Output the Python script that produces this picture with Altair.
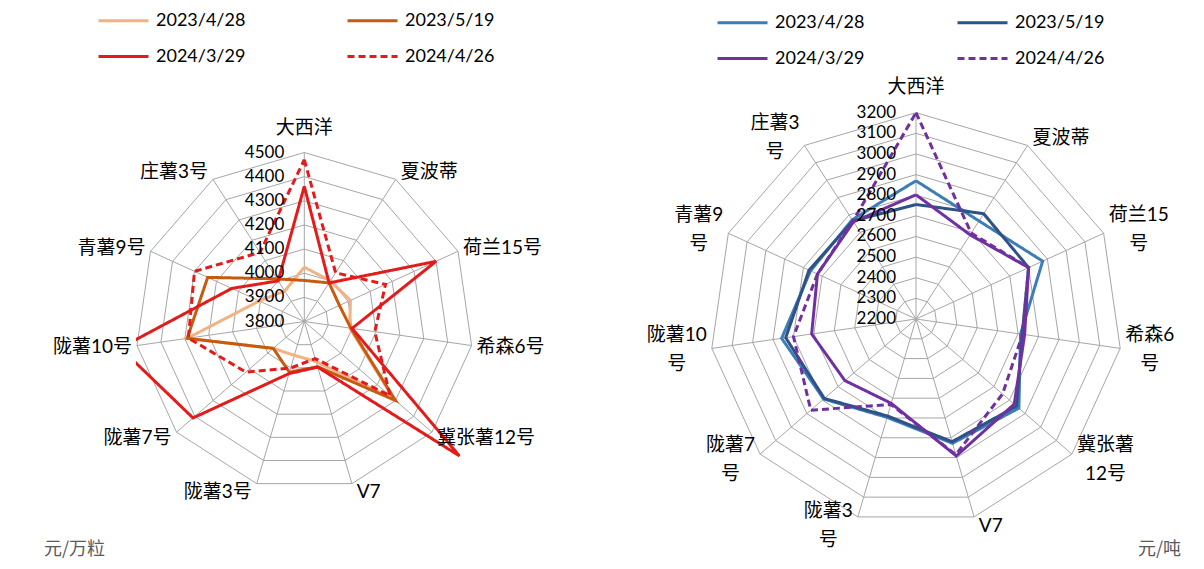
import math
import altair as alt
import pandas as pd

# ---------------- data ----------------
categories = ["大西洋", "夏波蒂", "荷兰15号", "希森6号", "冀张薯12号", "V7",
              "陇薯3号", "陇薯7号", "陇薯10号", "青薯9号", "庄薯3号"]
categories_right = ["大西洋", "夏波蒂", "荷兰15\n号", "希森6\n号", "冀张薯\n12号", "V7",
                    "陇薯3\n号", "陇薯7\n号", "陇薯10\n号", "青薯9\n号", "庄薯3\n号"]
series_names = ["2023/4/28", "2023/5/19", "2024/3/29", "2024/4/26"]

# 元/万粒 (left)
seed_2023_04_28 = [4025, 4000, 4010, 3990, 4290, 3973, 3946, 3970, 4290, 4005, 3950]
seed_2023_05_19 = [3970, 3990, 3960, 3995, 4300, 3995, 4019, 3970, 4290, 4240, 4010]
seed_2024_03_29 = [4360, 3990, 4400, 4000, 4650, 3997, 4025, 4410, 4570, 4130, 4000]
seed_2024_04_26 = [4470, 4040, 4170, 4095, 4270, 3960, 4001, 4120, 4285, 4300, 4140]

# 元/吨 (right)
ton_2023_04_28 = [2870, 2765, 2875, 2712, 2860, 2828, 2697, 2792, 2858, 2762, 2772]
ton_2023_05_19 = [2755, 2807, 2800, 2720, 2845, 2820, 2690, 2788, 2838, 2770, 2765]
ton_2024_03_29 = [2802, 2685, 2800, 2732, 2830, 2892, 2626, 2656, 2711, 2725, 2760]
ton_2024_04_26 = [3200, 2695, 2800, 2722, 2755, 2885, 2632, 2875, 2800, 2725, 2765]

ticks_left = [3800, 3900, 4000, 4100, 4200, 4300, 4400, 4500]
ticks_right = [2200, 2300, 2400, 2500, 2600, 2700, 2800, 2900, 3000, 3100, 3200]
unit_left = "元/万粒"
unit_right = "元/吨"

# ---------------- layout ----------------
FONT = "Lato, Noto Sans CJK SC, sans-serif"
PAGE_W, PAGE_H = 1204, 569
PAD_LEFT = 128
X0 = 8 + PAD_LEFT
W = PAGE_W - 16 - PAD_LEFT
H = PAGE_H - 16
xs = alt.Scale(domain=[X0, X0 + W], nice=False, zero=False)
ys = alt.Scale(domain=[8, 8 + H], nice=False, zero=False, reverse=True)
N = len(categories)
GRID = "#A6A6A6"
DASHES = [[1, 0], [1, 0], [1, 0], [7, 4]]
# legend grid fills column by column -> order entries so rows read like the reference
LEG_ORDER = [0, 2, 1, 3]


def text_w(s, fs):
    w = 0
    for c in s:
        if ord(c) > 0x2E80:
            w += fs
        elif c.isdigit():
            w += 0.58 * fs
        else:
            w += 0.65 * fs
    return w


def legend_def(lx, ly, col_pad, row_pad):
    return alt.Legend(orient="none", legendX=lx, legendY=ly, columns=2, title=None,
                      symbolType="stroke", symbolSize=2500, symbolStrokeWidth=3,
                      labelFont=FONT, labelFontSize=18, labelColor="#000000",
                      labelOffset=6, columnPadding=col_pad, rowPadding=row_pad,
                      padding=0)


def radar(values, ticks, labels, cx, cy, R, colors, field, lx, ly, col_pad, row_pad,
          lab_fs, line_h, top_gap):
    vmin, vmax = ticks[0], ticks[-1]
    rows = []
    for s, vals in zip(series_names, values):
        for k in range(N + 1):
            i = k % N
            rows.append({field: s, "idx": i, "ord": k, "value": vals[i]})
    df = pd.DataFrame(rows)

    def polar(ch):
        return ch.transform_calculate(
            theta=f"2*PI*datum.idx/{N}",
            frac=f"(datum.value-{vmin})/({vmax}-{vmin})",
        ).transform_calculate(
            px=f"{cx}+{R}*datum.frac*sin(datum.theta)",
            py=f"{cy}-{R}*datum.frac*cos(datum.theta)",
        )

    # rings
    ring_rows = []
    for t in ticks[1:]:
        for k in range(N + 1):
            ring_rows.append({"tick": t, "idx": k % N, "ord": k, "value": t})
    rings = polar(alt.Chart(pd.DataFrame(ring_rows))).mark_line(
        stroke=GRID, strokeWidth=1).encode(
        x=alt.X("px:Q", scale=xs, axis=None),
        y=alt.Y("py:Q", scale=ys, axis=None),
        order="ord:Q", detail="tick:N")

    spoke_df = pd.DataFrame({"idx": list(range(N)), "value": [vmax] * N})
    spokes = polar(alt.Chart(spoke_df)).transform_calculate(
        cx0=f"{cx}", cy0=f"{cy}").mark_rule(stroke=GRID, strokeWidth=1).encode(
        x=alt.X("cx0:Q", scale=xs, axis=None), y=alt.Y("cy0:Q", scale=ys, axis=None),
        x2="px:Q", y2="py:Q")

    leg = legend_def(lx, ly, col_pad, row_pad)
    dom = [series_names[j] for j in LEG_ORDER]
    col_rng = [colors[j] for j in LEG_ORDER]
    dash_rng = [DASHES[j] for j in LEG_ORDER]
    lines = polar(alt.Chart(df)).mark_line(strokeWidth=3, clip=True).encode(
        x=alt.X("px:Q", scale=xs, axis=None),
        y=alt.Y("py:Q", scale=ys, axis=None),
        order="ord:Q",
        color=alt.Color(f"{field}:N", scale=alt.Scale(domain=dom, range=col_rng),
                        legend=leg),
        strokeDash=alt.StrokeDash(f"{field}:N",
                                  scale=alt.Scale(domain=dom, range=dash_rng),
                                  legend=leg),
    )

    tick_df = pd.DataFrame({"value": ticks, "label": [str(t) for t in ticks]})
    tick_text = alt.Chart(tick_df).transform_calculate(
        tx=f"{cx}-20",
        ty=f"{cy}-{R}*(datum.value-{vmin})/({vmax}-{vmin})",
    ).mark_text(align="right", baseline="middle", font=FONT, fontSize=17,
                color="#000000").encode(
        x=alt.X("tx:Q", scale=xs, axis=None), y=alt.Y("ty:Q", scale=ys, axis=None),
        text="label:N")

    lab_rows = []
    for i, lab in enumerate(labels):
        th = 2 * math.pi * i / N
        s, c = math.sin(th), math.cos(th)
        px, py = cx + R * s, cy - R * c
        parts = lab.split("\n")
        w = max(text_w(p, lab_fs) for p in parts)
        bh = lab_fs + (len(parts) - 1) * line_h
        if abs(s) < 0.1:
            x, y = px, py - top_gap - bh / 2
        else:
            x = px + (1 if s > 0 else -1) * (5 + w / 2)
            y = py - c * 9
        # first line sits at the anchor: lift multi-line blocks so they are centred
        y -= (len(parts) - 1) * line_h / 2
        lab_rows.append({"label": lab, "lx": x, "ly": y})
    cat_text = alt.Chart(pd.DataFrame(lab_rows)).mark_text(
        align="center", baseline="middle", font=FONT, fontSize=lab_fs,
        color="#000000", lineBreak="\n", lineHeight=line_h).encode(
        x=alt.X("lx:Q", scale=xs, axis=None), y=alt.Y("ly:Q", scale=ys, axis=None),
        text="label:N")
    return [rings, spokes, lines, tick_text, cat_text]


left = radar([seed_2023_04_28, seed_2023_05_19, seed_2024_03_29, seed_2024_04_26],
             ticks_left, categories, 304.3, 321.5, 169.0,
             ["#F4B183", "#C55A11", "#E31B1B", "#E31B1B"], "日期L",
             97 - X0, -14, 95, -2, 19, 23, 15)
right = radar([ton_2023_04_28, ton_2023_05_19, ton_2024_03_29, ton_2024_04_26],
              ticks_right, categories_right, 916.0, 319.0, 206.3,
              ["#3B7DB4", "#2F5286", "#7030A0", "#7030A0"], "日期R",
              716 - X0, -12, 86, 0, 19, 29, 16)

unit_df = pd.DataFrame({"label": [unit_left, unit_right], "ux": [44, 1181], "uy": [550, 550]})
units_l = alt.Chart(unit_df.iloc[[0]]).mark_text(
    align="left", baseline="middle", font="Noto Sans CJK SC", fontSize=18,
    color="#595959").encode(x=alt.X("ux:Q", scale=xs, axis=None),
                            y=alt.Y("uy:Q", scale=ys, axis=None), text="label:N")
units_r = alt.Chart(unit_df.iloc[[1]]).mark_text(
    align="right", baseline="middle", font="Noto Sans CJK SC", fontSize=18,
    color="#595959").encode(x=alt.X("ux:Q", scale=xs, axis=None),
                            y=alt.Y("uy:Q", scale=ys, axis=None), text="label:N")

chart = alt.layer(*left, *right, units_l, units_r).resolve_scale(
    color="independent", strokeDash="independent"
).properties(
    width=W, height=H,
    padding={"left": PAD_LEFT, "top": 0, "right": 0, "bottom": 0},
    autosize=alt.AutoSizeParams(type="none"),
    background="white",
).configure_view(strokeWidth=0)

chart.save("out.html", embed_options={"renderer": "svg", "actions": False})
